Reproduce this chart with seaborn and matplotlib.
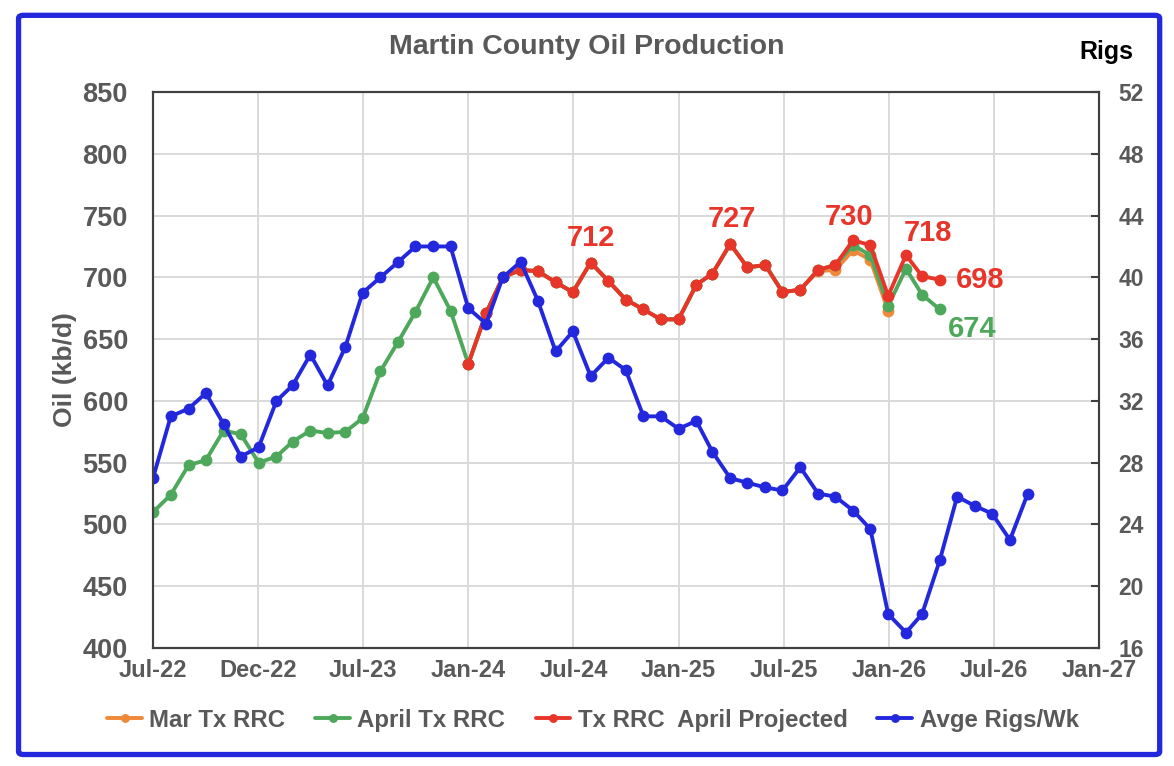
import pandas as pd
import numpy as np
import matplotlib
matplotlib.use('Agg')
import matplotlib.pyplot as plt
from matplotlib.patches import FancyBboxPatch
import seaborn as sns

# --- data (kb/d and rigs) ---
start = "2022-07-01"
green_oil = [510, 524, 548, 552, 576, 573,
             550, 555, 567, 576, 574, 575, 586, 624, 648, 672, 700, 673,
             630, 671, 700, 706, 705, 696, 688, 712, 697, 682, 674, 666,
             666, 694, 703, 727, 708, 710, 688, 690, 706, 710, 726, 718,
             677, 707, 686, 674]
red_oil = [630, 671, 700, 706, 705, 696, 688, 712, 697, 682, 674, 666,
           666, 694, 703, 727, 708, 710, 688, 690, 706, 710, 730, 726,
           685, 718, 701, 698]
orange_oil = [630, 671, 700, 706, 705, 696, 688, 712, 697, 682, 674, 666,
              666, 694, 703, 727, 708, 710, 688, 690, 705, 706, 722, 714,
              673]
rigs = [27, 31, 31.5, 32.5, 30.5, 28.4,
        29, 32, 33, 35, 33, 35.5, 39, 40, 41, 42, 42, 42,
        38, 37, 40, 41, 38.5, 35.2, 36.5, 33.6, 34.8, 34, 31, 31,
        30.2, 30.7, 28.7, 27, 26.7, 26.4, 26.2, 27.7, 26, 25.8, 24.9, 23.7,
        18.2, 17, 18.2, 21.7, 25.8, 25.2, 24.7, 23, 26]
tick_labels = ["Jul-22", "Dec-22", "Jul-23", "Jan-24", "Jul-24", "Jan-25",
               "Jul-25", "Jan-26", "Jul-26", "Jan-27"]

green_dates = pd.date_range(start, periods=len(green_oil), freq="MS")
red_dates = pd.date_range("2024-01-01", periods=len(red_oil), freq="MS")
orange_dates = pd.date_range("2024-01-01", periods=len(orange_oil), freq="MS")
rig_dates = pd.date_range(start, periods=len(rigs), freq="MS")

BLUE = "#2328DC"
GREEN = "#4EA85C"
RED = "#E8352A"
ORANGE = "#F0883A"
GREY = "#595959"

sns.set_theme(style="white")
plt.rcParams['font.family'] = ['Liberation Sans', 'DejaVu Sans']
plt.rcParams['font.weight'] = 'bold'

fig = plt.figure(figsize=(11.74, 7.66), dpi=100)
ax = fig.add_axes([0.1303, 0.1540, 0.8058, 0.7259])
ax2 = ax.twinx()

line_kw = dict(marker='o', markersize=8.5, linewidth=2.8, markeredgewidth=0)
sns.lineplot(x=orange_dates, y=orange_oil, ax=ax, color=ORANGE, label="Mar Tx RRC", **line_kw)
sns.lineplot(x=green_dates, y=green_oil, ax=ax, color=GREEN, label="April Tx RRC", **line_kw)
sns.lineplot(x=red_dates, y=red_oil, ax=ax, color=RED, label="Tx RRC  April Projected", **line_kw)
sns.lineplot(x=rig_dates, y=rigs, ax=ax2, color=BLUE, label="Avge Rigs/Wk", **line_kw)
for a in (ax, ax2):
    if a.get_legend() is not None:
        a.get_legend().remove()

# x axis: Excel-like date axis with 183-day major unit
x0 = pd.Timestamp(start)
ticks = [x0 + pd.Timedelta(days=183 * i) for i in range(len(tick_labels))]
ax.set_xlim(ticks[0], ticks[-1])
ax.set_xticks(ticks)
ax.set_xticklabels(tick_labels)

ax.set_ylim(400, 850)
ax.set_yticks(np.arange(400, 851, 50))
ax2.set_ylim(16, 52)
ax2.set_yticks(np.arange(16, 53, 4))

ax.grid(True, color="#D9D9D9", linewidth=1.4)
ax.set_axisbelow(True)
for a in (ax, ax2):
    for s in a.spines.values():
        s.set_color("#404040")
        s.set_linewidth(1.5)

ax.tick_params(axis='x', length=0, pad=8, labelsize=17, labelcolor=GREY)
ax.tick_params(axis='y', length=0, pad=18, labelsize=19.5, labelcolor=GREY)
ax2.tick_params(axis='y', direction='in', length=6, width=1.5, color="#404040",
                pad=14, labelsize=16.5, labelcolor=GREY)
for lab in ax.get_xticklabels() + ax.get_yticklabels() + ax2.get_yticklabels():
    lab.set_fontweight('bold')

ax.set_xlabel("")
ax.set_ylabel("Oil (kb/d)", fontsize=19, color=GREY, fontweight='bold')
ax2.set_ylabel("")
ax.yaxis.set_label_coords(-0.080, 0.5)

fig.text(0.5, 0.938, "Martin County Oil Production", ha='center', va='center',
         fontsize=20.5, fontweight='bold', color=GREY)
fig.text(0.942, 0.932, "Rigs", ha='center', va='center',
         fontsize=18, fontweight='bold', color='black')

# data labels
def tag(a, dates, vals, i, dx, dy, color):
    a.annotate(str(vals[i]), (dates[i], vals[i]), xytext=(dx, dy),
               textcoords='offset points', ha='center', va='center',
               fontsize=21, fontweight='bold', color=color)

tag(ax, red_dates, red_oil, 7, 0, 18, RED)
tag(ax, red_dates, red_oil, 15, 1, 18, RED)
tag(ax, red_dates, red_oil, 22, -3, 17, RED)
tag(ax, red_dates, red_oil, 25, 16, 16, RED)
tag(ax, red_dates, red_oil, 27, 29, 0, RED)
tag(ax, green_dates, green_oil, 45, 23, -14, GREEN)

h1, l1 = ax.get_legend_handles_labels()
h2, l2 = ax2.get_legend_handles_labels()
fig.legend(h1 + h2, l1 + l2, loc='center', bbox_to_anchor=(0.505, 0.060), ncol=4,
           frameon=False, fontsize=17.3, labelcolor=GREY, handlelength=1.45,
           handletextpad=0.3, columnspacing=1.25, markerscale=0.75)

border = FancyBboxPatch((0.0158, 0.015), 0.972, 0.965, transform=fig.transFigure,
                        boxstyle="round,pad=0,rounding_size=0.004",
                        facecolor='none', edgecolor=BLUE, linewidth=3.8)
fig.patches.append(border)

fig.savefig("out.png", dpi=100)
plt.close()
